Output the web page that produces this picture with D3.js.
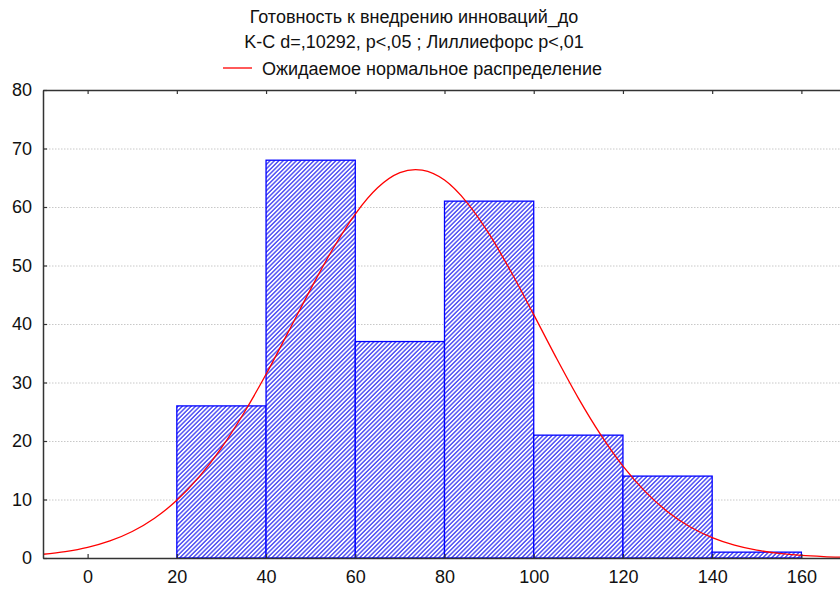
<!DOCTYPE html>
<html lang="ru">
<head>
<meta charset="UTF-8">
<title>Готовность к внедрению инноваций_до</title>
<script src="https://d3js.org/d3.v7.min.js"></script>
<style>
    body { margin: 0; background: #fff; }
    svg { display: block; font-family: "Liberation Sans", Arial, sans-serif; }
</style>
</head>
<body>
<div id="chart"></div>
<script>
    // histogram bins (lower edge, upper edge, count)
    const binStart = [20, 40, 60, 80, 100, 120, 140];
    const binEnd   = [40, 60, 80, 100, 120, 140, 160];
    const counts   = [26, 68, 37, 61, 21, 14, 1];

    // expected normal curve
    const curveX = [-10, -5, 0, 5, 10, 15, 20, 25, 30, 35, 40, 45, 50, 55, 60, 65, 70, 73.5, 75, 80, 85, 90, 95, 100,
                    105, 110, 115, 120, 125, 130, 135, 140, 145, 150, 155, 160, 165, 170];
    const curveY = [0.64, 1.1, 1.82, 2.92, 4.53, 6.8, 9.86, 13.87, 18.83, 24.75, 31.4, 38.66, 45.97, 52.87, 58.8, 63.28, 65.86, 66.4, 66.3, 64.6, 60.8, 55.39, 48.8, 41.6,
                    34.3, 27.34, 21.09, 15.7, 11.35, 7.92, 5.35, 3.49, 2.21, 1.35, 0.8, 0.45, 0.25, 0.13];

    const xTicks = [0, 20, 40, 60, 80, 100, 120, 140, 160];
    const yTicks = [0, 10, 20, 30, 40, 50, 60, 70, 80];

    const titleLines = ["Готовность к внедрению инноваций_до", "K-C d=,10292, p<,05 ; Лиллиефорс p<,01"];
    const legendLabel = "Ожидаемое нормальное распределение";

    const width = 840, height = 590;
    const margin = { top: 90, right: -6, bottom: 32, left: 43 };

    const svg = d3.select("#chart").append("svg")
        .attr("width", width)
        .attr("height", height);

    const x = d3.scaleLinear().domain([-10, 170]).range([margin.left, width - margin.right]);
    const y = d3.scaleLinear().domain([0, 80]).range([height - margin.bottom, margin.top]);

    // hatch pattern
    const defs = svg.append("defs");
    const hatch = 3.1;
    const pat = defs.append("pattern")
        .attr("id", "hatch")
        .attr("patternUnits", "userSpaceOnUse")
        .attr("width", hatch).attr("height", hatch)
        .attr("patternTransform", "rotate(45)");
    pat.append("rect").attr("width", hatch).attr("height", hatch).attr("fill", "#fff");
    pat.append("line")
        .attr("x1", 0.8).attr("y1", 0).attr("x2", 0.8).attr("y2", hatch)
        .attr("stroke", "#3a3af2").attr("stroke-width", 1.3);

    defs.append("clipPath").attr("id", "plot-clip")
        .append("rect")
        .attr("x", margin.left).attr("y", margin.top)
        .attr("width", width - margin.left - margin.right)
        .attr("height", height - margin.top - margin.bottom);

    // gridlines
    svg.append("g")
        .selectAll("line")
        .data(yTicks.filter(d => d > 0 && d < 80))
        .join("line")
        .attr("x1", margin.left).attr("x2", width)
        .attr("y1", d => y(d) + 0.5).attr("y2", d => y(d) + 0.5)
        .attr("stroke", "#c8c8c8")
        .attr("stroke-dasharray", "1.5,1.5");

    // bars
    svg.append("g")
        .selectAll("rect")
        .data(counts)
        .join("rect")
        .attr("x", (d, i) => x(binStart[i]))
        .attr("y", d => y(d))
        .attr("width", (d, i) => x(binEnd[i]) - x(binStart[i]))
        .attr("height", d => y(0) - y(d))
        .attr("fill", "url(#hatch)")
        .attr("stroke", "#0000ff")
        .attr("stroke-width", 1.3);

    // normal curve
    const line = d3.line()
        .x((d, i) => x(curveX[i]))
        .y(d => y(d))
        .curve(d3.curveMonotoneX);

    svg.append("path")
        .datum(curveY)
        .attr("clip-path", "url(#plot-clip)")
        .attr("fill", "none")
        .attr("stroke", "#ff0000")
        .attr("stroke-width", 1.3)
        .attr("d", line);

    // axes
    const axisColor = "#333";
    const axisB = svg.append("g")
        .attr("transform", `translate(0,${y(0)})`)
        .call(d3.axisBottom(x).tickValues(xTicks).tickSizeInner(-4).tickSizeOuter(0).tickPadding(12));
    const axisL = svg.append("g")
        .attr("transform", `translate(${margin.left},0)`)
        .call(d3.axisLeft(y).tickValues(yTicks).tickSizeInner(-4).tickSizeOuter(0).tickPadding(11));
    const axisT = svg.append("g")
        .attr("transform", `translate(0,${margin.top})`)
        .call(d3.axisTop(x).tickValues(xTicks).tickSizeInner(-4).tickSizeOuter(0).tickFormat(""));

    [axisB, axisL, axisT].forEach(g => {
        g.select(".domain").attr("stroke", axisColor).attr("stroke-width", 1.5);
        g.selectAll(".tick line").attr("stroke", axisColor).attr("stroke-width", 1.2);
        g.selectAll(".tick text").attr("fill", "#111").attr("font-size", 18);
    });

    // title
    svg.append("g")
        .selectAll("text")
        .data(titleLines)
        .join("text")
        .attr("x", 414)
        .attr("y", (d, i) => 22.5 + i * 25)
        .attr("text-anchor", "middle")
        .attr("font-size", 18)
        .attr("fill", "#111")
        .text(d => d);

    // legend
    svg.append("line")
        .attr("x1", 223).attr("x2", 252)
        .attr("y1", 68).attr("y2", 68)
        .attr("stroke", "#ff0000").attr("stroke-width", 1.3);
    svg.append("text")
        .attr("x", 262).attr("y", 74.5)
        .attr("font-size", 18)
        .attr("fill", "#111")
        .text(legendLabel);
</script>
</body>
</html>
